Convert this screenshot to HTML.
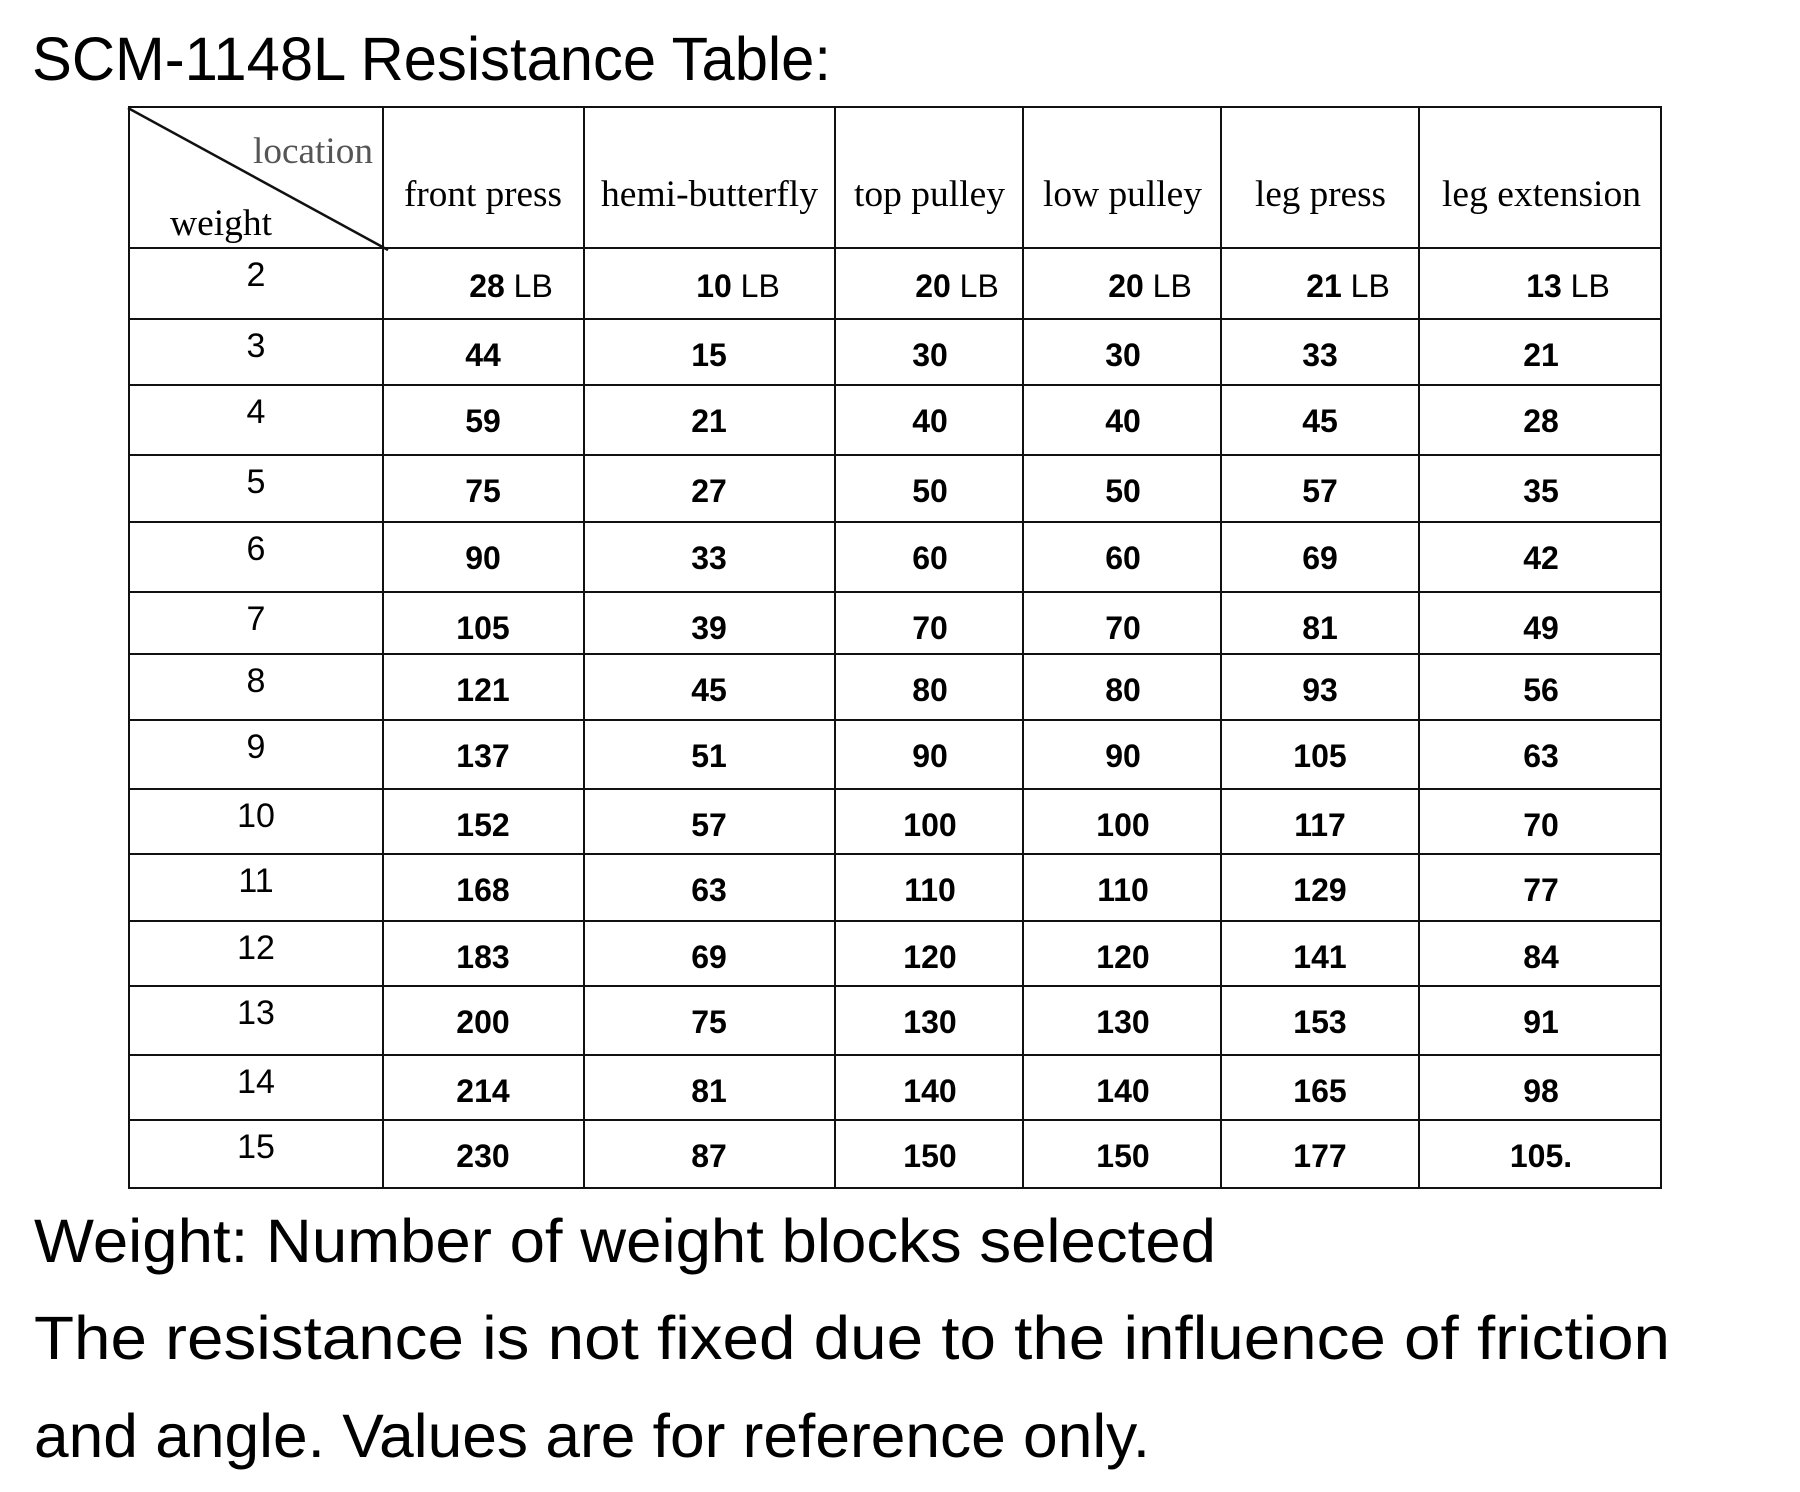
<!DOCTYPE html>
<html><head><meta charset="utf-8"><style>
html,body{margin:0;padding:0;background:#fff;}
svg{display:block;}
.h{font-family:"Liberation Serif",serif;font-size:37px;fill:#000;}
.v{font-family:"Liberation Sans",sans-serif;font-size:32px;font-weight:bold;fill:#000;text-anchor:middle;}
.w{font-family:"Liberation Sans",sans-serif;font-size:34px;fill:#000;text-anchor:middle;}
.t{font-family:"Liberation Sans",sans-serif;font-size:61px;fill:#000;}
</style></head><body>
<svg width="1800" height="1492" viewBox="0 0 1800 1492" xmlns="http://www.w3.org/2000/svg">
<text class="t" x="32" y="80" font-size="63" textLength="799" lengthAdjust="spacingAndGlyphs">SCM-1148L Resistance Table:</text>
<g stroke="#111" stroke-width="2" fill="none">
<rect x="129" y="107" width="1532" height="1081"/>
<line x1="383" y1="107" x2="383" y2="1188"/>
<line x1="584" y1="107" x2="584" y2="1188"/>
<line x1="835" y1="107" x2="835" y2="1188"/>
<line x1="1023" y1="107" x2="1023" y2="1188"/>
<line x1="1221" y1="107" x2="1221" y2="1188"/>
<line x1="1419" y1="107" x2="1419" y2="1188"/>
<line x1="129" y1="248" x2="1661" y2="248"/>
<line x1="129" y1="319" x2="1661" y2="319"/>
<line x1="129" y1="385" x2="1661" y2="385"/>
<line x1="129" y1="455" x2="1661" y2="455"/>
<line x1="129" y1="522" x2="1661" y2="522"/>
<line x1="129" y1="592" x2="1661" y2="592"/>
<line x1="129" y1="654" x2="1661" y2="654"/>
<line x1="129" y1="720" x2="1661" y2="720"/>
<line x1="129" y1="789" x2="1661" y2="789"/>
<line x1="129" y1="854" x2="1661" y2="854"/>
<line x1="129" y1="921" x2="1661" y2="921"/>
<line x1="129" y1="986" x2="1661" y2="986"/>
<line x1="129" y1="1055" x2="1661" y2="1055"/>
<line x1="129" y1="1120" x2="1661" y2="1120"/>
<line x1="128" y1="108" x2="388" y2="250" stroke-width="2.5"/>
</g>
<text class="h" x="253" y="163" style="fill:#555" textLength="120" lengthAdjust="spacingAndGlyphs">location</text>
<text class="h" x="170" y="235" textLength="102" lengthAdjust="spacingAndGlyphs">weight</text>
<text class="h" x="404" y="206" textLength="158" lengthAdjust="spacingAndGlyphs">front press</text>
<text class="h" x="601" y="206" textLength="217" lengthAdjust="spacingAndGlyphs">hemi-butterfly</text>
<text class="h" x="854" y="206" textLength="151" lengthAdjust="spacingAndGlyphs">top pulley</text>
<text class="h" x="1043" y="206" textLength="159" lengthAdjust="spacingAndGlyphs">low pulley</text>
<text class="h" x="1255" y="206" textLength="131" lengthAdjust="spacingAndGlyphs">leg press</text>
<text class="h" x="1442" y="206" textLength="199" lengthAdjust="spacingAndGlyphs">leg extension</text>
<g class="v">
<text x="511" y="297">28<tspan font-weight="normal"> LB</tspan></text>
<text x="738" y="297">10<tspan font-weight="normal"> LB</tspan></text>
<text x="957" y="297">20<tspan font-weight="normal"> LB</tspan></text>
<text x="1150" y="297">20<tspan font-weight="normal"> LB</tspan></text>
<text x="1348" y="297">21<tspan font-weight="normal"> LB</tspan></text>
<text x="1568" y="297">13<tspan font-weight="normal"> LB</tspan></text>
</g>
<g id="rows"></g>
<text class="t" x="34" y="1262" textLength="1182" lengthAdjust="spacingAndGlyphs">Weight: Number of weight blocks selected</text>
<text class="t" x="34" y="1359" textLength="1636" lengthAdjust="spacingAndGlyphs">The resistance is not fixed due to the influence of friction</text>
<text class="t" x="34" y="1457" textLength="1116" lengthAdjust="spacingAndGlyphs">and angle. Values are for reference only.</text>
</svg>
<script>
var tops=[248,319,385,455,522,592,654,720,789,854,921,986,1055,1120];
var data=[[44,15,30,30,33,21],[59,21,40,40,45,28],[75,27,50,50,57,35],[90,33,60,60,69,42],[105,39,70,70,81,49],[121,45,80,80,93,56],[137,51,90,90,105,63],[152,57,100,100,117,70],[168,63,110,110,129,77],[183,69,120,120,141,84],[200,75,130,130,153,91],[214,81,140,140,165,98],[230,87,150,150,177,"105."]];
var cx=[483,709,930,1123,1320,1541];
var g=document.getElementById('rows'),s="";
for(var i=0;i<14;i++){s+='<text class="w" x="256" y="'+(tops[i]+38)+'">'+(i+2)+'</text>';}
for(var r=0;r<13;r++){var t=tops[r+1];for(var c=0;c<6;c++){s+='<text class="v" x="'+cx[c]+'" y="'+(t+47)+'">'+data[r][c]+'</text>';}}
g.innerHTML=s;
</script>
</body></html>
